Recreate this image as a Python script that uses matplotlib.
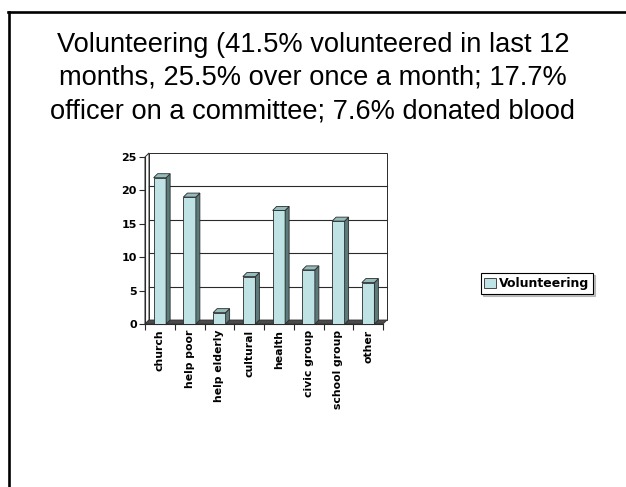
import matplotlib
matplotlib.use("Agg")
import matplotlib.pyplot as plt
from matplotlib.patches import Polygon, Patch
from matplotlib.lines import Line2D

categories = ["church", "help poor", "help elderly", "cultural", "health",
              "civic group", "school group", "other"]
values = [21.9, 19.0, 1.7, 7.1, 17.0, 8.1, 15.4, 6.2]
yticks = [0, 5, 10, 15, 20, 25]

title = ("Volunteering (41.5% volunteered in last 12\n"
         "months, 25.5% over once a month; 17.7%\n"
         "officer on a committee; 7.6% donated blood")
series_name = "Volunteering"

face = "#bfe2e5"
side = "#5b7b7b"
top = "#94bcbc"
edge = "#2a2a2a"

W, H = 626, 487
fig = plt.figure(figsize=(W / 100, H / 100), dpi=100)

# page frame (left and top rules)
fig.add_artist(Line2D([9 / W, 9 / W], [1 - 12 / H, 0], color="black", lw=1.9,
                      transform=fig.transFigure))
fig.add_artist(Line2D([8 / W, 1], [1 - 12 / H, 1 - 12 / H], color="black", lw=1.9,
                      transform=fig.transFigure))

fig.text(313 / W, 1 - 78 / H, title, ha="center", va="center",
         fontsize=19.6, family="Liberation Sans", linespacing=1.36)

# front plane of the chart
x0, x1, y0, y1 = 145, 383, 324, 157
ax = fig.add_axes([x0 / W, 1 - y0 / H, (x1 - x0) / W, (y0 - y1) / H])
n = len(categories)
ax.set_xlim(-0.5, n - 0.5)
ax.set_ylim(0, 25)

depth = 4.0
dx = depth / ((x1 - x0) / n)
dy = depth / ((y0 - y1) / 25)
xl, xr = -0.5, n - 0.5

# side wall, back wall and floor
ax.add_patch(Polygon([(xl, 0), (xl + dx, dy), (xl + dx, 25 + dy), (xl, 25)],
                     closed=True, facecolor="white", edgecolor=edge, lw=0.7,
                     clip_on=False, zorder=1))
ax.add_patch(Polygon([(xl + dx, dy), (xr + dx, dy), (xr + dx, 25 + dy), (xl + dx, 25 + dy)],
                     closed=True, facecolor="white", edgecolor=edge, lw=0.7,
                     clip_on=False, zorder=1))
for t in yticks[1:-1]:
    ax.plot([xl + dx, xr + dx], [t + dy, t + dy], color=edge, lw=0.8,
            clip_on=False, zorder=1.5)
ax.add_patch(Polygon([(xl, 0), (xr, 0), (xr + dx, dy), (xl + dx, dy)],
                     closed=True, facecolor="#4a4a4a", edgecolor="#333333", lw=0.6,
                     clip_on=False, zorder=1.6))

# 3-D columns
w = 0.42
xs = list(range(n))
ax.bar(xs, values, width=w, color=face, edgecolor=edge, lw=0.6, zorder=3)
for x, v in zip(xs, values):
    ax.add_patch(Polygon([(x + w / 2, 0), (x + w / 2 + dx, dy), (x + w / 2 + dx, v + dy),
                          (x + w / 2, v)], closed=True, facecolor=side,
                         edgecolor=edge, lw=0.6, clip_on=False, zorder=3))
    ax.add_patch(Polygon([(x - w / 2, v), (x + w / 2, v), (x + w / 2 + dx, v + dy),
                          (x - w / 2 + dx, v + dy)], closed=True, facecolor=top,
                         edgecolor=edge, lw=0.6, clip_on=False, zorder=3))

for s in ["top", "right"]:
    ax.spines[s].set_visible(False)
ax.spines["left"].set_color(edge)
ax.spines["bottom"].set_color(edge)
ax.spines["left"].set_linewidth(0.8)
ax.spines["bottom"].set_linewidth(0.8)
ax.patch.set_alpha(0)

ax.set_yticks(yticks)
ax.set_yticklabels([str(t) for t in yticks], fontsize=8, family="DejaVu Sans",
                   fontweight="bold")
ax.set_xticks([i - 0.5 for i in range(n + 1)], minor=False)
ax.set_xticklabels([])
ax.set_xticks(xs, minor=True)
ax.set_xticklabels(categories, minor=True, rotation=90, fontsize=7.8,
                   family="DejaVu Sans", fontweight="bold")
ax.tick_params(axis="x", which="minor", length=0, pad=4)
ax.tick_params(axis="x", which="major", length=4, width=0.8, color=edge)
ax.tick_params(axis="y", length=4, width=0.8, color=edge, pad=2)

handle = Patch(facecolor=face, edgecolor=edge, lw=0.6)
leg = fig.legend(handles=[handle], labels=[series_name], loc="center",
                 bbox_to_anchor=(537 / W, 1 - 283.5 / H), frameon=True,
                 fancybox=False, shadow={"ox": 1.5, "oy": -1.5, "color": "0.55"},
                 edgecolor="black",
                 prop={"family": "DejaVu Sans", "weight": "bold", "size": 9},
                 handlelength=0.9, handleheight=0.9, handletextpad=0.3,
                 borderpad=0.3, borderaxespad=0)
leg.get_frame().set_linewidth(0.8)

fig.savefig("out.png", dpi=100, facecolor="white")
